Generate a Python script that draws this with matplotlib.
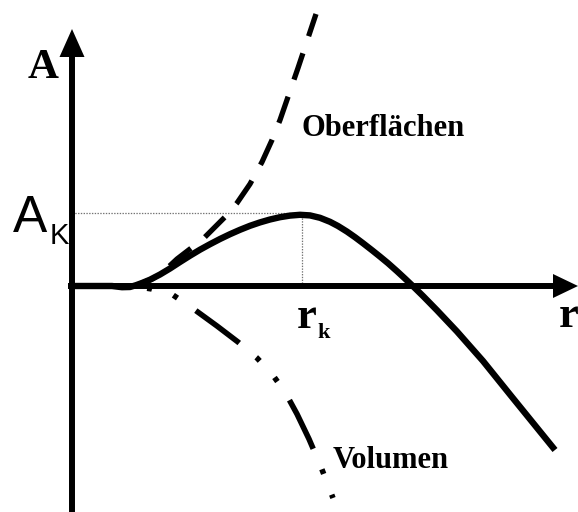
import numpy as np
import matplotlib.pyplot as plt

plt.rcParams['lines.scale_dashes'] = False

# schematic: radius r vs. free energy A (units ~ pixels from origin)
r_total = [0, 40, 50, 58, 64, 70, 78, 88, 98, 108, 118, 128, 138, 148, 158,
           168, 178, 188, 198, 208, 218, 228, 238, 248, 258, 266, 275, 283,
           291, 300, 308, 316, 325, 333, 341, 351, 365, 385, 411, 440, 483]
A_total = [0, 0, -1.2, -1, 0.8, 3, 6.3, 11.5, 17.5, 24, 30.3, 36.3, 41.8,
           47, 51.8, 56.2, 60.2, 63.6, 66.5, 68.8, 70.4, 71.2, 70.6, 68.2,
           64.2, 60, 54.4, 48.8, 42.8, 35.8, 29.4, 22.8, 14.8, 7.4, -0.2,
           -10, -24.3, -45.5, -75, -111, -164]

# surface term (Oberflächen)
r_surf = [63, 70, 80, 90, 105, 118, 131, 145, 155, 165, 178, 190, 200, 208,
          217, 226, 235, 244]
A_surf = [0, 3, 7, 13, 27, 37, 47, 61, 71, 83, 102, 124, 146, 166,
          192, 218, 245, 272]

# volume term (Volumen)
r_vol = [60, 80, 101, 123, 145, 166, 185, 200, 213, 225, 237, 249, 261]
A_vol = [0, -3, -9, -24, -40, -56, -72, -88, -106, -128, -153, -181, -212]

r_k = 230
A_k = 73

fig = plt.figure(figsize=(5.78, 5.12), dpi=100)
ax = fig.add_axes([0, 0, 1, 1])
ax.set_xlim(-72, 506)
ax.set_ylim(-226, 286)
ax.axis('off')

# helper lines to the maximum
ax.plot([0, r_k], [A_k, A_k], color='0.45', lw=0.9, ls=(0, (1, 1)))
ax.plot([r_k, r_k], [0, A_k], color='0.45', lw=0.9, ls=(0, (1, 1)))

# axes with arrow heads
ax.plot([0, 0], [-226, 232], color='k', lw=4.3, solid_capstyle='butt')
ax.plot([-4, 484], [0, 0], color='k', lw=4.3, solid_capstyle='butt')
ax.fill([-12.5, 12.5, 0], [229, 229, 257], color='k', lw=0)
ax.fill([481, 481, 506], [12, -12, 0], color='k', lw=0)

ax.plot(r_total, A_total, color='k', lw=4.6, solid_capstyle='butt',
        solid_joinstyle='round')
ax.plot(r_surf, A_surf, color='k', lw=3.8, ls=(4, (20, 13)))
ax.plot(r_vol, A_vol, color='k', lw=4.0,
        ls=(44, (39, 16, 3.6, 16, 3.6, 16)))

serif = 'Liberation Serif'
ax.text(-29, 218, 'A', fontsize=31, fontweight='bold', family=serif,
        ha='center', va='center')
ax.text(-42, 68, 'A', fontsize=37, family='Liberation Sans',
        ha='center', va='center')
ax.text(-13, 50, 'K', fontsize=21, family='Liberation Sans',
        ha='center', va='center')
ax.text(235, -31, 'r', fontsize=32, fontweight='bold', family=serif,
        ha='center', va='center')
ax.text(252, -47, 'k', fontsize=16, fontweight='bold', family=serif,
        ha='center', va='center')
ax.text(497, -30, 'r', fontsize=32, fontweight='bold', family=serif,
        ha='center', va='center')
ax.text(311, 158, 'Oberflächen', fontsize=22, fontweight='bold', family=serif,
        ha='center', va='center')
ax.text(319, -175, 'Volumen', fontsize=22, fontweight='bold', family=serif,
        ha='center', va='center')

fig.savefig('out.png', dpi=100)
